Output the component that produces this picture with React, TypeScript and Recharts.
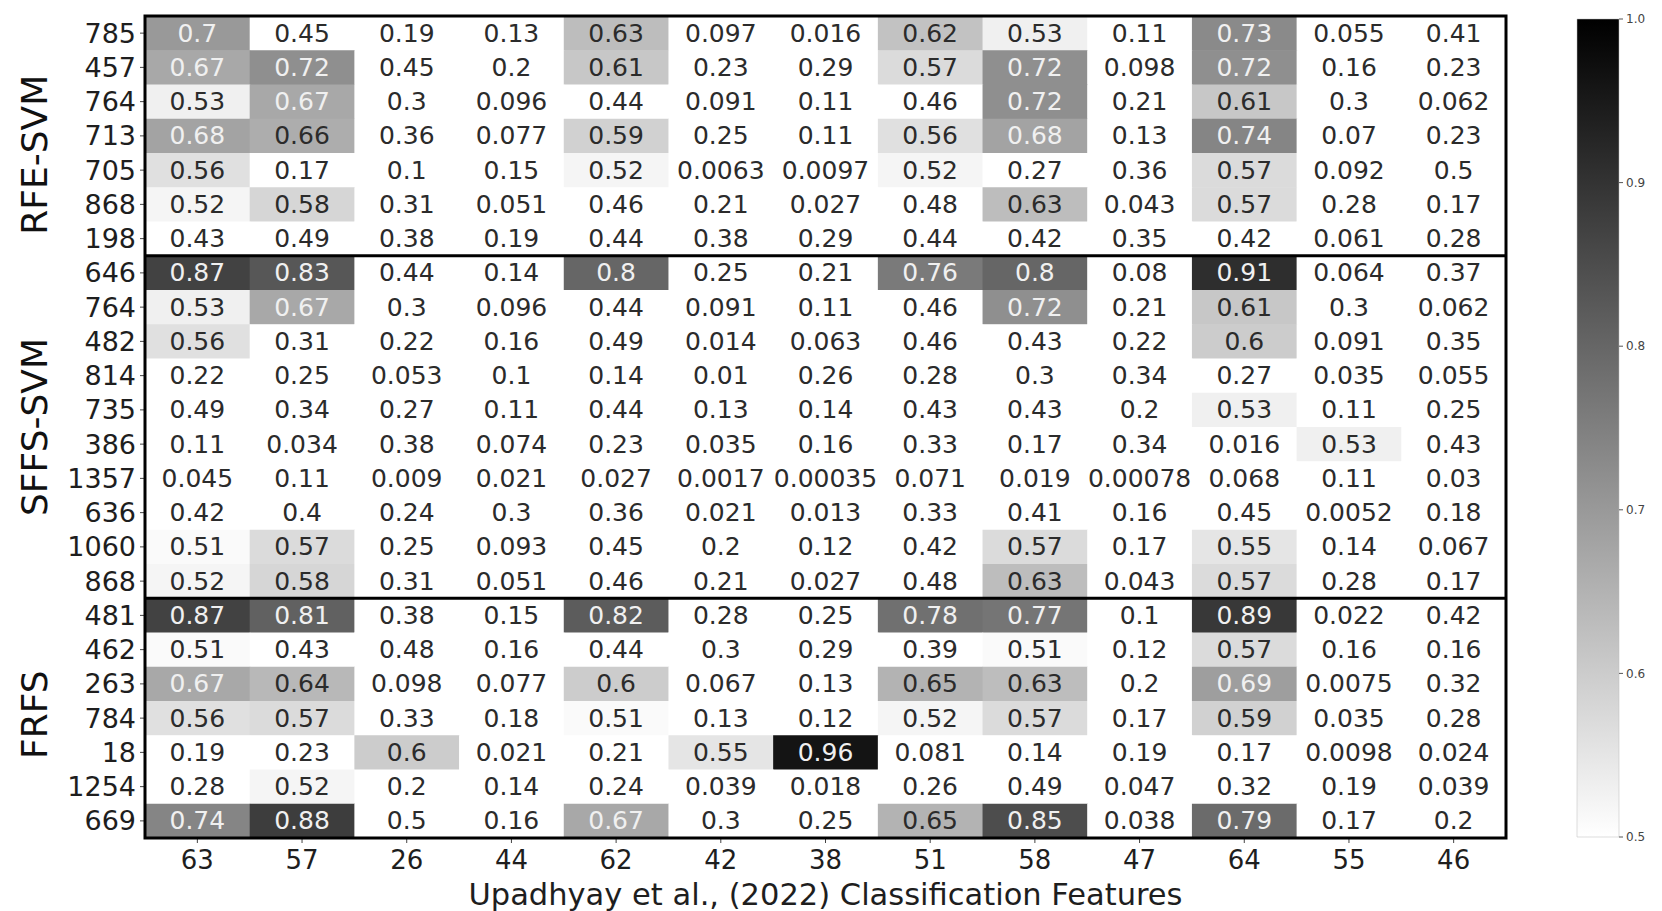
import React from 'react';
import { ScatterChart, Scatter, XAxis, YAxis, BarChart, Bar } from 'recharts';

// ---- data ----
const columns = ['63', '57', '26', '44', '62', '42', '38', '51', '58', '47', '64', '55', '46'];

const rowLabels = [
  '785', '457', '764', '713', '705', '868', '198',
  '646', '764', '482', '814', '735', '386', '1357', '636', '1060', '868',
  '481', '462', '263', '784', '18', '1254', '669',
];

// RFE-SVM
const r785 = [0.7, 0.45, 0.19, 0.13, 0.63, 0.097, 0.016, 0.62, 0.53, 0.11, 0.73, 0.055, 0.41];
const r457 = [0.67, 0.72, 0.45, 0.2, 0.61, 0.23, 0.29, 0.57, 0.72, 0.098, 0.72, 0.16, 0.23];
const r764a = [0.53, 0.67, 0.3, 0.096, 0.44, 0.091, 0.11, 0.46, 0.72, 0.21, 0.61, 0.3, 0.062];
const r713 = [0.68, 0.66, 0.36, 0.077, 0.59, 0.25, 0.11, 0.56, 0.68, 0.13, 0.74, 0.07, 0.23];
const r705 = [0.56, 0.17, 0.1, 0.15, 0.52, 0.0063, 0.0097, 0.52, 0.27, 0.36, 0.57, 0.092, 0.5];
const r868a = [0.52, 0.58, 0.31, 0.051, 0.46, 0.21, 0.027, 0.48, 0.63, 0.043, 0.57, 0.28, 0.17];
const r198 = [0.43, 0.49, 0.38, 0.19, 0.44, 0.38, 0.29, 0.44, 0.42, 0.35, 0.42, 0.061, 0.28];
// SFFS-SVM
const r646 = [0.87, 0.83, 0.44, 0.14, 0.8, 0.25, 0.21, 0.76, 0.8, 0.08, 0.91, 0.064, 0.37];
const r764b = [0.53, 0.67, 0.3, 0.096, 0.44, 0.091, 0.11, 0.46, 0.72, 0.21, 0.61, 0.3, 0.062];
const r482 = [0.56, 0.31, 0.22, 0.16, 0.49, 0.014, 0.063, 0.46, 0.43, 0.22, 0.6, 0.091, 0.35];
const r814 = [0.22, 0.25, 0.053, 0.1, 0.14, 0.01, 0.26, 0.28, 0.3, 0.34, 0.27, 0.035, 0.055];
const r735 = [0.49, 0.34, 0.27, 0.11, 0.44, 0.13, 0.14, 0.43, 0.43, 0.2, 0.53, 0.11, 0.25];
const r386 = [0.11, 0.034, 0.38, 0.074, 0.23, 0.035, 0.16, 0.33, 0.17, 0.34, 0.016, 0.53, 0.43];
const r1357 = [0.045, 0.11, 0.009, 0.021, 0.027, 0.0017, 0.00035, 0.071, 0.019, 0.00078, 0.068, 0.11, 0.03];
const r636 = [0.42, 0.4, 0.24, 0.3, 0.36, 0.021, 0.013, 0.33, 0.41, 0.16, 0.45, 0.0052, 0.18];
const r1060 = [0.51, 0.57, 0.25, 0.093, 0.45, 0.2, 0.12, 0.42, 0.57, 0.17, 0.55, 0.14, 0.067];
const r868b = [0.52, 0.58, 0.31, 0.051, 0.46, 0.21, 0.027, 0.48, 0.63, 0.043, 0.57, 0.28, 0.17];
// FRFS
const r481 = [0.87, 0.81, 0.38, 0.15, 0.82, 0.28, 0.25, 0.78, 0.77, 0.1, 0.89, 0.022, 0.42];
const r462 = [0.51, 0.43, 0.48, 0.16, 0.44, 0.3, 0.29, 0.39, 0.51, 0.12, 0.57, 0.16, 0.16];
const r263 = [0.67, 0.64, 0.098, 0.077, 0.6, 0.067, 0.13, 0.65, 0.63, 0.2, 0.69, 0.0075, 0.32];
const r784 = [0.56, 0.57, 0.33, 0.18, 0.51, 0.13, 0.12, 0.52, 0.57, 0.17, 0.59, 0.035, 0.28];
const r18 = [0.19, 0.23, 0.6, 0.021, 0.21, 0.55, 0.96, 0.081, 0.14, 0.19, 0.17, 0.0098, 0.024];
const r1254 = [0.28, 0.52, 0.2, 0.14, 0.24, 0.039, 0.018, 0.26, 0.49, 0.047, 0.32, 0.19, 0.039];
const r669 = [0.74, 0.88, 0.5, 0.16, 0.67, 0.3, 0.25, 0.65, 0.85, 0.038, 0.79, 0.17, 0.2];

const rows = [
  r785, r457, r764a, r713, r705, r868a, r198,
  r646, r764b, r482, r814, r735, r386, r1357, r636, r1060, r868b,
  r481, r462, r263, r784, r18, r1254, r669,
];

const groupNames = ['RFE-SVM', 'SFFS-SVM', 'FRFS'];
const groupLabelPos = [3.55, 11.5, 19.9];
const groupSeparators = [6.5, 16.5];

const colorMin = 0.5;
const colorMax = 1.0;
const colorbarTicks = [0.5, 0.6, 0.7, 0.8, 0.9, 1.0];
const colorbarData = [{ name: 'cb', top: colorMax }];

const xTitle = 'Upadhyay et al., (2022) Classification Features';

// ---- layout ----
const CHART_W = 1540;
const CHART_H = 911;
const MARGIN = { top: 16, right: 34, bottom: 0, left: 0 };
const ROW_AXIS_W = 97;
const GROUP_AXIS_W = 48;
const X_AXIS_H = 73;
const PLOT_W = CHART_W - MARGIN.left - MARGIN.right - ROW_AXIS_W - GROUP_AXIS_W;
const PLOT_H = CHART_H - MARGIN.top - MARGIN.bottom - X_AXIS_H;
const CELL_W = PLOT_W / columns.length;
const CELL_H = PLOT_H / rowLabels.length;

const FONT = "'DejaVu Sans', 'Liberation Sans', sans-serif";

const cells = rows.flatMap((r, ri) => r.map((v, ci) => ({ x: ci, y: ri, v, label: String(v) })));
const midCol = (columns.length - 1) / 2;
const midRow = (rowLabels.length - 1) / 2;
const separatorMarks = groupSeparators.map((s) => ({ x: midCol, y: s }));
const borderMark = [{ x: midCol, y: midRow }];

function grayOf(v: number) {
  const t = Math.max(0, Math.min(1, (v - colorMin) / (colorMax - colorMin)));
  return Math.round(255 * (1 - t));
}
function lum(g: number) {
  const c = g / 255;
  return c <= 0.03928 ? c / 12.92 : Math.pow((c + 0.055) / 1.055, 2.4);
}

const CellShape = (props: any) => {
  const { cx, cy, payload } = props;
  if (cx == null || cy == null) return null;
  const g = grayOf(payload.v);
  const textFill = lum(g) < 0.408 ? '#f0f0f0' : '#2b2b2b';
  return (
    <g>
      <rect
        x={cx - CELL_W / 2}
        y={cy - CELL_H / 2}
        width={CELL_W + 0.6}
        height={CELL_H + 0.6}
        fill={`rgb(${g},${g},${g})`}
        stroke="none"
      />
      <text
        x={cx}
        y={cy}
        textAnchor="middle"
        dominantBaseline="central"
        fontSize={25}
        fill={textFill}
        style={{ fontFamily: FONT }}
      >
        {payload.label}
      </text>
    </g>
  );
};

const SeparatorShape = (props: any) => {
  const { cx, cy } = props;
  if (cx == null || cy == null) return null;
  return <line x1={cx - PLOT_W / 2} x2={cx + PLOT_W / 2} y1={cy} y2={cy} stroke="#000" strokeWidth={3} />;
};

const BorderShape = (props: any) => {
  const { cx, cy } = props;
  if (cx == null || cy == null) return null;
  return (
    <rect
      x={cx - PLOT_W / 2}
      y={cy - PLOT_H / 2}
      width={PLOT_W}
      height={PLOT_H}
      fill="none"
      stroke="#000"
      strokeWidth={3}
    />
  );
};

const GroupTick = (props: any) => {
  const { x, y, payload } = props;
  const idx = groupLabelPos.indexOf(payload.value);
  return (
    <text
      transform={`translate(${x - 14},${y}) rotate(-90)`}
      textAnchor="middle"
      dominantBaseline="central"
      fontSize={36}
      fill="#111"
      style={{ fontFamily: FONT }}
    >
      {idx >= 0 ? groupNames[idx] : ''}
    </text>
  );
};

export default function App() {
  return (
    <div
      style={{
        position: 'absolute',
        left: 0,
        top: 0,
        width: 1662,
        height: 911,
        background: '#fff',
        fontFamily: FONT,
      }}
    >
      <div style={{ position: 'absolute', left: 0, top: 0 }}>
        <ScatterChart width={CHART_W} height={CHART_H} margin={MARGIN}>
          <XAxis
            dataKey="x"
            type="number"
            domain={[-0.5, 12.5]}
            ticks={columns.map((_, i) => i)}
            interval={0}
            tickFormatter={(i: number) => columns[i] ?? ''}
            height={X_AXIS_H}
            axisLine={false}
            tickSize={5}
            tickMargin={8}
            tickLine={{ stroke: '#444' }}
            tick={{ fontSize: 26, fill: '#1e1e1e' }}
            label={{ value: xTitle, position: 'insideBottom', offset: 6, fontSize: 30.5, fill: '#1e1e1e' }}
          />
          <YAxis
            yAxisId="a_rows"
            dataKey="y"
            type="number"
            domain={[-0.5, rowLabels.length - 0.5]}
            ticks={rowLabels.map((_, i) => i)}
            interval={0}
            reversed
            tickFormatter={(i: number) => rowLabels[i] ?? ''}
            width={ROW_AXIS_W}
            axisLine={false}
            tickSize={5}
            tickMargin={4}
            tickLine={{ stroke: '#444' }}
            tick={{ fontSize: 27, fill: '#1e1e1e' }}
          />
          <YAxis
            yAxisId="z_groups"
            type="number"
            domain={[-0.5, rowLabels.length - 0.5]}
            allowDataOverflow
            ticks={groupLabelPos}
            interval={0}
            reversed
            width={GROUP_AXIS_W}
            axisLine={false}
            tickLine={false}
            tickSize={0}
            tickMargin={0}
            tick={<GroupTick />}
          />
          <Scatter yAxisId="a_rows" data={cells} shape={<CellShape />} isAnimationActive={false} />
          <Scatter yAxisId="a_rows" data={separatorMarks} shape={<SeparatorShape />} isAnimationActive={false} />
          <Scatter yAxisId="a_rows" data={borderMark} shape={<BorderShape />} isAnimationActive={false} />
        </ScatterChart>
      </div>
      <div style={{ position: 'absolute', left: 1560, top: 0 }}>
        <BarChart
          width={110}
          height={911}
          data={colorbarData}
          margin={{ top: 19, right: 6, bottom: 74, left: 17 }}
          barCategoryGap={0}
          barGap={0}
        >
          <defs>
            <linearGradient id="cbGrad" x1="0" y1="0" x2="0" y2="1">
              <stop offset="0%" stopColor="#000" />
              <stop offset="100%" stopColor="#fff" />
            </linearGradient>
          </defs>
          <XAxis dataKey="name" hide />
          <YAxis
            orientation="right"
            type="number"
            domain={[colorMin, colorMax]}
            ticks={colorbarTicks}
            interval={0}
            width={45}
            axisLine={false}
            tickSize={4}
            tickMargin={3}
            tickLine={{ stroke: '#555' }}
            tick={{ fontSize: 12, fill: '#444' }}
            tickFormatter={(v: number) => v.toFixed(1)}
          />
          <Bar dataKey="top" fill="url(#cbGrad)" stroke="#bbb" strokeWidth={0.5} isAnimationActive={false} />
        </BarChart>
      </div>
    </div>
  );
}
